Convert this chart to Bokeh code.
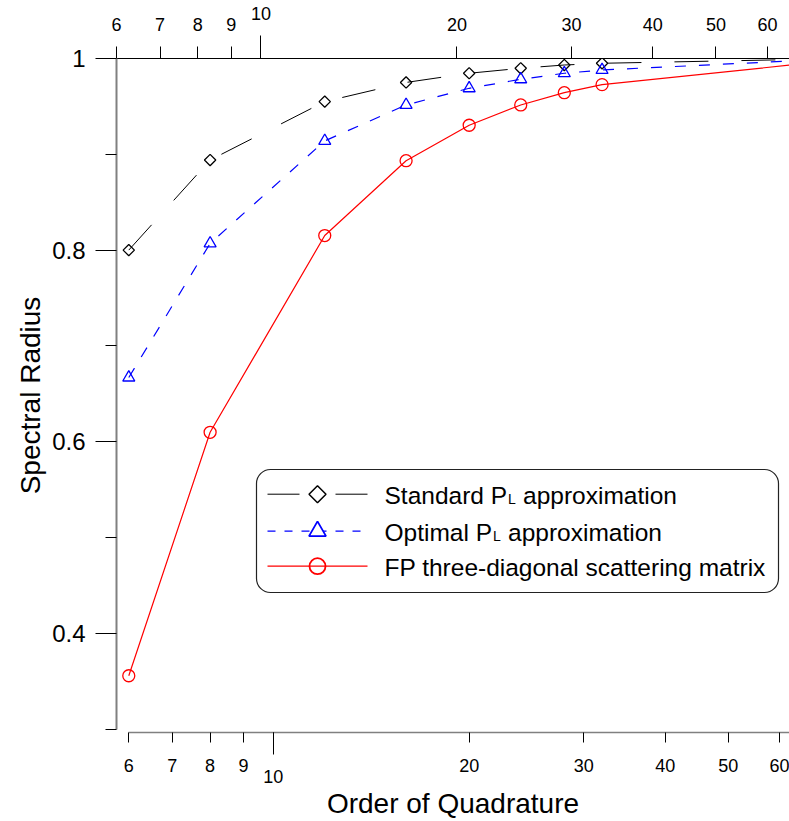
import math
from bokeh.plotting import figure
from bokeh.models import (Range1d, LogScale, LogAxis, FixedTicker, BoxAnnotation, Label)
from bokeh.embed import file_html
from bokeh.resources import INLINE

# ---------------- data ----------------
orders = [6, 8, 12, 16, 20, 24, 28, 32, 64]
standard_pl = [0.800, 0.894, 0.955, 0.975, 0.9846, 0.9898, 0.9932, 0.9950, 0.9990]
optimal_pl = [0.667, 0.807, 0.914, 0.9515, 0.9689, 0.9783, 0.9846, 0.9880, 0.9978]
fp_three_diag = [0.3557, 0.6098, 0.8152, 0.8933, 0.9303, 0.9515, 0.9643, 0.9727, 0.9940]
n_marked = 8  # markers are shown on the first 8 orders

x_ticks = [6, 7, 8, 9, 10, 20, 30, 40, 50, 60]
x_tick_labels = ["6", "7", "8", "9", "10", "20", "30", "40", "50", "60"]
y_major = [0.4, 0.6, 0.8, 1.0]
y_major_labels = ["0.4", "0.6", "0.8", "1"]
y_minor = [0.3, 0.5, 0.7, 0.9]

legend_labels = ["Standard P", "Optimal P", "FP three-diagonal scattering matrix"]

# ---------------- layout constants ----------------
W, H = 789, 821
FL, FR, FT, FB = 116, 789, 58, 732
DEC = 1.03379            # decades spanned by frame width
X_START = 5.745
X_END = X_START * 10 ** DEC
TOP_START = 6.0
TOP_END = TOP_START * 10 ** DEC
Y_START, Y_END = 1.0 - (FB - FT) / 958.0, 1.0

FONT = "Liberation Sans"


def xd(px):
    return 10 ** (math.log10(X_START) + (px - FL) / (FR - FL) * DEC)


def yd(py):
    return Y_START + (FB - py) / (FB - FT) * (Y_END - Y_START)


p = figure(width=W, height=H, x_axis_type="log",
           x_range=Range1d(X_START, X_END), y_range=Range1d(Y_START, Y_END),
           output_backend="svg", toolbar_location=None,
           min_border_left=FL, min_border_right=W - FR,
           min_border_top=FT, min_border_bottom=H - FB)
p.outline_line_color = None
p.grid.visible = False
p.background_fill_color = "white"
p.border_fill_color = "white"

# ---------------- bottom axis ----------------
xa = p.xaxis[0]
xa.ticker = FixedTicker(ticks=x_ticks, minor_ticks=[10])
xa.major_label_overrides = {t: ("\n" + l if t == 10 else l) for t, l in zip(x_ticks, x_tick_labels)}
xa.major_label_text_line_height = 0.56
xa.major_tick_out = 10
xa.major_tick_in = 0
xa.minor_tick_out = 22
xa.minor_tick_in = 0
xa.major_tick_line_color = "black"
xa.minor_tick_line_color = "black"
xa.axis_line_color = "#808080"
xa.axis_line_width = 1.5
xa.bounds = (6, X_END)
xa.major_label_standoff = 1
xa.major_label_text_font = FONT
xa.major_label_text_font_size = "18px"
xa.major_label_text_color = "black"
xa.axis_label = "Order of Quadrature"
xa.axis_label_text_font = FONT
xa.axis_label_text_font_size = "28px"
xa.axis_label_text_font_style = "normal"
xa.axis_label_text_color = "black"
xa.axis_label_standoff = -2

# ---------------- top axis ----------------
p.extra_x_ranges = {"top": Range1d(TOP_START, TOP_END)}
p.extra_x_scales = {"top": LogScale()}
ta = LogAxis(x_range_name="top")
ta.ticker = FixedTicker(ticks=x_ticks, minor_ticks=[10])
ta.major_label_overrides = {t: (l + "\n" if t == 10 else l) for t, l in zip(x_ticks, x_tick_labels)}
ta.major_label_text_line_height = 0.52
ta.major_tick_out = 12
ta.major_tick_in = 0
ta.minor_tick_out = 23
ta.minor_tick_in = 0
ta.major_tick_line_color = "black"
ta.minor_tick_line_color = "black"
ta.axis_line_color = "black"
ta.axis_line_width = 1
ta.major_label_standoff = 1
ta.major_label_text_font = FONT
ta.major_label_text_font_size = "18px"
ta.major_label_text_color = "black"
p.add_layout(ta, "above")

# ---------------- left axis ----------------
ya = p.yaxis[0]
ya.ticker = FixedTicker(ticks=y_major, minor_ticks=y_minor)
ya.major_label_overrides = dict(zip(y_major, y_major_labels))
ya.major_tick_out = 21
ya.major_tick_in = 0
ya.minor_tick_out = 11
ya.minor_tick_in = 0
ya.major_tick_line_color = "black"
ya.minor_tick_line_color = "black"
ya.axis_line_color = "#808080"
ya.axis_line_width = 2
ya.bounds = (0.3, 1.0)
ya.major_label_standoff = 10
ya.major_label_text_font = FONT
ya.major_label_text_font_size = "24px"
ya.major_label_text_color = "black"
ya.axis_label = "Spectral Radius"
ya.axis_label_text_font = FONT
ya.axis_label_text_font_size = "28px"
ya.axis_label_text_font_style = "normal"
ya.axis_label_text_color = "black"
ya.axis_label_standoff = 3

# ---------------- data ----------------
BLACK, BLUE, RED = "#000000", "#0000ff", "#ff0000"
p.line(orders, standard_pl, line_color=BLACK, line_width=1, line_dash="34 33")
p.line(orders, optimal_pl, line_color=BLUE, line_width=1.2, line_dash="11 13")
p.line(orders, fp_three_diag, line_color=RED, line_width=1.2)

p.scatter(orders[:n_marked], standard_pl[:n_marked], marker="square", angle=math.pi / 4,
          size=8, fill_alpha=0, line_color=BLACK, line_width=1.3)
p.scatter(orders[:n_marked], optimal_pl[:n_marked], marker="triangle",
          size=12, fill_alpha=0, line_color=BLUE, line_width=1.3)
p.scatter(orders[:n_marked], fp_three_diag[:n_marked], marker="circle",
          size=12, fill_alpha=0, line_color=RED, line_width=1.3)

# ---------------- legend (drawn by hand for the P_L subscript) ----------------
p.add_layout(BoxAnnotation(left=xd(256), right=xd(778), top=yd(469), bottom=yd(592),
                           fill_color="white", fill_alpha=1, line_color="#222222",
                           line_alpha=1, line_width=1.2, border_radius=14, level="underlay"))

rows = [493.7, 530.7, 565.7]
# black sample
p.segment(x0=[xd(267), xd(335)], y0=[yd(rows[0])] * 2, x1=[xd(299), xd(367)],
          y1=[yd(rows[0])] * 2, line_color=BLACK, line_width=1)
p.scatter([xd(317)], [yd(rows[0])], marker="square", angle=math.pi / 4, size=12,
          fill_alpha=0, line_color=BLACK, line_width=1.5)
# blue sample
p.line([xd(267), xd(367)], [yd(rows[1])] * 2, line_color=BLUE, line_width=1.2, line_dash="8 9")
p.scatter([xd(317)], [yd(rows[1])], marker="triangle", size=17, fill_color="white",
          line_color=BLUE, line_width=1.8)
# red sample
p.line([xd(267), xd(367)], [yd(rows[2])] * 2, line_color=RED, line_width=1.2)
p.scatter([xd(317)], [yd(rows[2])], marker="circle", size=16, fill_alpha=0,
          line_color=RED, line_width=1.8)

TX = 384
FS = 24.5
sub_x = [TX + 5.003 * FS + 1, TX + 4.391 * FS + 1]
for i, lab in enumerate(legend_labels):
    base = rows[i] + 1
    p.add_layout(Label(x=xd(TX), y=yd(base), text=lab, text_font=FONT, text_font_size=f"{FS}px",
                       text_baseline="alphabetic", text_align="left", text_color="black"))
    if i < 2:
        p.add_layout(Label(x=xd(sub_x[i]), y=yd(base + 4), text="L", text_font=FONT,
                           text_font_size="14px", text_baseline="alphabetic",
                           text_align="left", text_color="black"))
        p.add_layout(Label(x=xd(sub_x[i] + 8 + 7), y=yd(base), text="approximation",
                           text_font=FONT, text_font_size=f"{FS}px", text_baseline="alphabetic",
                           text_align="left", text_color="black"))

open("out.html", "w").write(file_html(p, INLINE))
